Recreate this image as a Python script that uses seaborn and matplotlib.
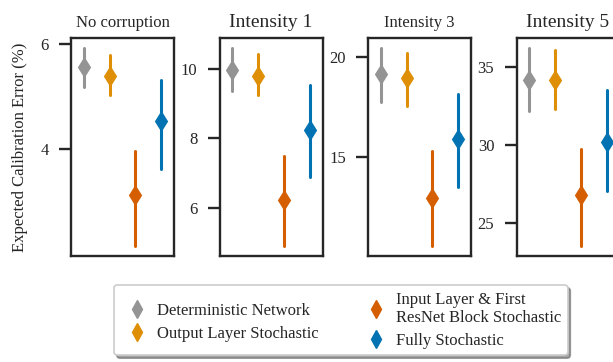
import numpy as np
import pandas as pd
import matplotlib
matplotlib.use("Agg")
import matplotlib.pyplot as plt
from matplotlib.lines import Line2D
import seaborn as sns

# Modelos (ordem das colunas em cada painel)
modelos = ["Deterministic Network", "Output Layer Stochastic",
           "Input Layer & First\nResNet Block Stochastic", "Fully Stochastic"]

# Paineis
titulos = ["No corruption", "Intensity 1", "Intensity 3", "Intensity 5"]
tamanho_titulo = [12, 14, 12, 14]
yticks = [[4, 6], [6, 8, 10], [15, 20], [25, 30, 35]]

# ECE (%): centro, limite inferior e superior de cada modelo
ece_centro = [
    [5.55, 5.38, 3.12, 4.53],
    [9.97, 9.78, 6.24, 8.23],
    [19.11, 18.94, 12.96, 15.88],
    [34.21, 34.21, 26.81, 30.17],
]
ece_inf = [
    [5.18, 5.02, 2.16, 3.62],
    [9.35, 9.24, 4.90, 6.90],
    [17.76, 17.53, 10.56, 13.51],
    [32.19, 32.30, 23.51, 27.07],
]
ece_sup = [
    [5.92, 5.79, 3.97, 5.31],
    [10.60, 10.43, 7.50, 9.53],
    [20.43, 20.18, 15.28, 18.15],
    [36.24, 36.13, 29.75, 33.56],
]

sns.set_theme(style="ticks")
plt.rcParams["font.family"] = ["Liberation Serif", "DejaVu Serif"]
pal = sns.color_palette("colorblind")
cores = [pal[7], pal[1], pal[3], pal[0]]
escuro = "#262626"

W, H = 613, 362
fig = plt.figure(figsize=(W / 100, H / 100), dpi=100)

lefts = [71, 219.5, 368, 516.5]
for k in range(4):
    ax = fig.add_axes([lefts[k] / W, (H - 256) / H, 103 / W, 218 / H])
    # tabela longa: inf/centro/sup por modelo -> mediana e intervalo 100%
    linhas = []
    for i, m in enumerate(modelos):
        for v in (ece_inf[k][i], ece_centro[k][i], ece_sup[k][i]):
            linhas.append({"modelo": m, "ece": v})
    df = pd.DataFrame(linhas)
    sns.pointplot(data=df, x="modelo", y="ece", hue="modelo", order=modelos,
                  hue_order=modelos, palette=cores, estimator="median",
                  errorbar=("pi", 100), markers="d", linestyle="none",
                  markersize=8, err_kws={"linewidth": 2.2}, legend=False, ax=ax)
    ax.set_xticks([])
    ax.set_xlabel("")
    ax.set_ylabel("")
    ax.set_yticks(yticks[k])
    ax.set_title(titulos[k], fontsize=tamanho_titulo[k], pad=8, color=escuro)
    for s in ax.spines.values():
        s.set_visible(True)
        s.set_linewidth(1.7)
        s.set_color(escuro)
    ax.tick_params(axis="y", length=9, width=1.7, color=escuro,
                   labelsize=12, labelcolor=escuro, pad=7)
    if k == 0:
        ax.set_ylabel("Expected Calibration Error (%)", fontsize=12,
                      color=escuro, labelpad=9)

handles = [Line2D([], [], marker="d", linestyle="none", color=c, markersize=9)
           for c in cores]
leg = fig.legend(handles, modelos, ncol=2, loc="upper left",
                 bbox_to_anchor=(114 / W, 1 - 285 / H), borderaxespad=0,
                 fontsize=12, frameon=True, shadow=True, fancybox=True,
                 handlelength=2.0, handletextpad=0.2, borderpad=0.4,
                 columnspacing=2.4, labelspacing=0.4)
leg.get_frame().set_edgecolor("#cccccc")
leg.get_frame().set_linewidth(1.2)
leg.get_frame().set_alpha(1)
for t in leg.get_texts():
    t.set_color(escuro)

fig.savefig("out.png", dpi=100)
